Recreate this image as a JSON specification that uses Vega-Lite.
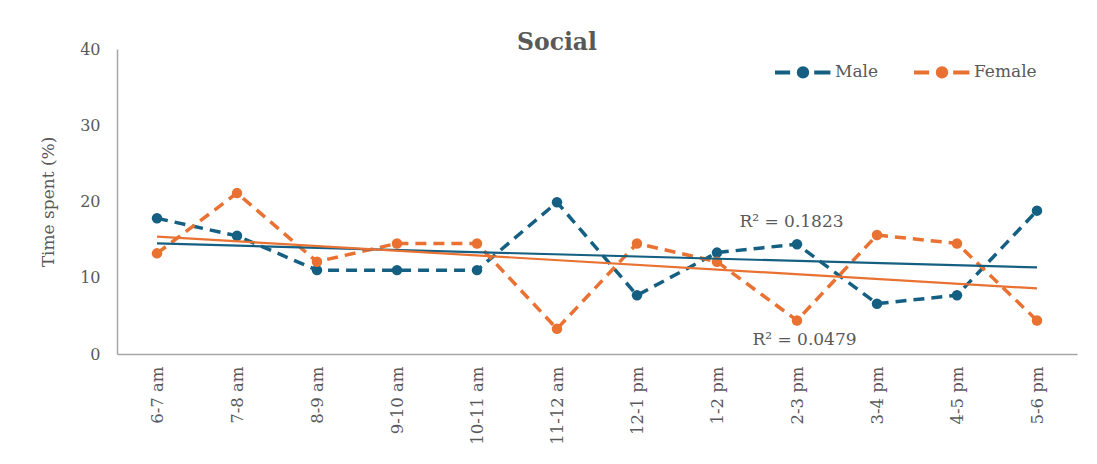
{
  "$schema": "https://vega.github.io/schema/vega-lite/v6.json",
  "width": 960,
  "height": 305,
  "autosize": {"type": "none"},
  "padding": {"left": 117, "top": 49, "right": 20, "bottom": 110},
  "background": "white",
  "title": {"text": "Social", "font": "DejaVu Serif", "fontSize": 23.5, "fontWeight": "bold", "color": "#595959", "anchor": "middle", "dx": -40, "baseline": "alphabetic", "offset": -3, "dy": 29},
  "config": {
    "view": {"stroke": null},
    "axis": {"grid": false, "ticks": false, "domainColor": "#a6a6a6", "domainWidth": 1.5, "labelFont": "DejaVu Serif", "labelFontSize": 16, "labelColor": "#595959", "titleFont": "DejaVu Serif", "titleFontSize": 17, "titleColor": "#595959", "titleFontWeight": "normal"}
  },
  "datasets": {
    "series": [
      {"hour": "6-7 am", "series": "Male", "value": 17.8},
      {"hour": "7-8 am", "series": "Male", "value": 15.5},
      {"hour": "8-9 am", "series": "Male", "value": 11.0},
      {"hour": "9-10 am", "series": "Male", "value": 11.0},
      {"hour": "10-11 am", "series": "Male", "value": 11.0},
      {"hour": "11-12 am", "series": "Male", "value": 19.9},
      {"hour": "12-1 pm", "series": "Male", "value": 7.7},
      {"hour": "1-2 pm", "series": "Male", "value": 13.3},
      {"hour": "2-3 pm", "series": "Male", "value": 14.4},
      {"hour": "3-4 pm", "series": "Male", "value": 6.6},
      {"hour": "4-5 pm", "series": "Male", "value": 7.7},
      {"hour": "5-6 pm", "series": "Male", "value": 18.8},
      {"hour": "6-7 am", "series": "Female", "value": 13.2},
      {"hour": "7-8 am", "series": "Female", "value": 21.1},
      {"hour": "8-9 am", "series": "Female", "value": 12.1},
      {"hour": "9-10 am", "series": "Female", "value": 14.5},
      {"hour": "10-11 am", "series": "Female", "value": 14.5},
      {"hour": "11-12 am", "series": "Female", "value": 3.3},
      {"hour": "12-1 pm", "series": "Female", "value": 14.5},
      {"hour": "1-2 pm", "series": "Female", "value": 12.1},
      {"hour": "2-3 pm", "series": "Female", "value": 4.4},
      {"hour": "3-4 pm", "series": "Female", "value": 15.6},
      {"hour": "4-5 pm", "series": "Female", "value": 14.5},
      {"hour": "5-6 pm", "series": "Female", "value": 4.4}
    ],
    "trend": [
      {"hour": "6-7 am", "series": "Male", "value": 14.5},
      {"hour": "5-6 pm", "series": "Male", "value": 11.35},
      {"hour": "6-7 am", "series": "Female", "value": 15.4},
      {"hour": "5-6 pm", "series": "Female", "value": 8.6}
    ],
    "r2male": [{"hour": "2-3 pm", "value": 17.3, "label": "R² = 0.1823"}],
    "r2female": [{"hour": "2-3 pm", "value": 1.85, "label": "R² = 0.0479"}]
  },
  "layer": [
    {
      "data": {"name": "series"},
      "mark": {"type": "line", "strokeWidth": 3.5, "strokeDash": [11, 7], "point": {"filled": true, "size": 110, "opacity": 1}},
      "encoding": {
        "x": {"field": "hour", "type": "nominal", "scale": {"domain": ["6-7 am", "7-8 am", "8-9 am", "9-10 am", "10-11 am", "11-12 am", "12-1 pm", "1-2 pm", "2-3 pm", "3-4 pm", "4-5 pm", "5-6 pm"]}, "axis": {"title": null, "labelAngle": -90, "labelPadding": 12, "labelFontSize": 16.5}},
        "y": {"field": "value", "type": "quantitative", "scale": {"domain": [0, 40]}, "axis": {"title": "Time spent (%)", "values": [0, 10, 20, 30, 40], "labelPadding": 17, "titlePadding": 22}},
        "color": {"field": "series", "type": "nominal", "scale": {"domain": ["Male", "Female"], "range": ["#156082", "#E97132"]},
          "legend": {"title": null, "orient": "none", "legendX": 656, "legendY": -7, "direction": "horizontal", "padding": 0, "labelFont": "DejaVu Serif", "labelFontSize": 17, "labelColor": "#595959", "labelOffset": 2, "columnPadding": 27, "symbolSize": 3136, "symbolStrokeWidth": 4, "symbolType": "M-1,0H-0.46M0.4,0H0.98M-0.15,0A0.15,0.15,0,1,0,0.15,0A0.15,0.15,0,1,0,-0.15,0Z",
            "encode": {"symbols": {"update": {"fill": {"scale": "color", "field": "value"}, "stroke": {"scale": "color", "field": "value"}, "strokeWidth": {"value": 4}, "strokeDash": {"value": []}, "opacity": {"value": 1}}}}}}
      }
    },
    {
      "data": {"name": "trend"},
      "mark": {"type": "line", "strokeWidth": 2.2},
      "encoding": {
        "x": {"field": "hour", "type": "nominal"},
        "y": {"field": "value", "type": "quantitative"},
        "color": {"field": "series", "type": "nominal"}
      }
    },
    {
      "data": {"name": "r2male"},
      "mark": {"type": "text", "font": "DejaVu Serif", "fontSize": 17, "color": "#595959", "align": "center", "baseline": "middle", "dx": -5.5},
      "encoding": {
        "x": {"field": "hour", "type": "nominal"},
        "y": {"field": "value", "type": "quantitative"},
        "text": {"field": "label"}
      }
    },
    {
      "data": {"name": "r2female"},
      "mark": {"type": "text", "font": "DejaVu Serif", "fontSize": 17, "color": "#595959", "align": "center", "baseline": "middle", "dx": 7.5},
      "encoding": {
        "x": {"field": "hour", "type": "nominal"},
        "y": {"field": "value", "type": "quantitative"},
        "text": {"field": "label"}
      }
    }
  ]
}
